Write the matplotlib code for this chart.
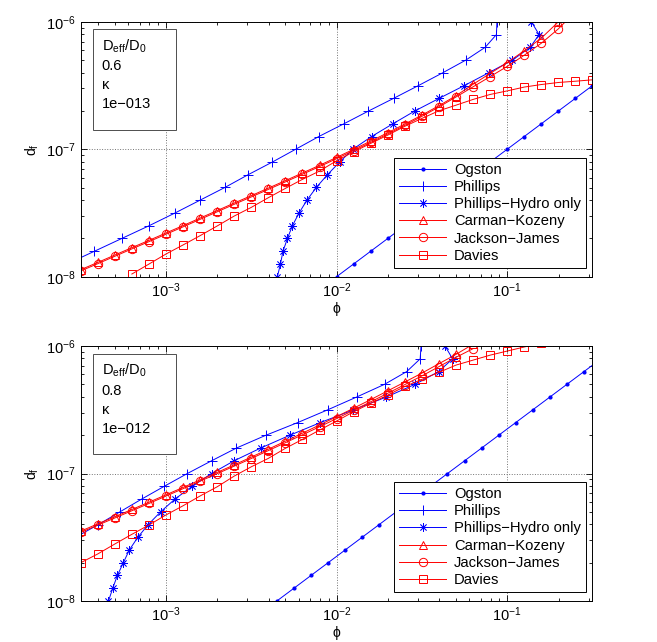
import numpy as np
import matplotlib
matplotlib.use('Agg')
import matplotlib.pyplot as plt
from matplotlib.patches import Rectangle
from matplotlib.ticker import LogLocator

plt.rcParams['font.family'] = ['Liberation Sans', 'DejaVu Sans']
plt.rcParams['mathtext.fontset'] = 'custom'
plt.rcParams['mathtext.rm'] = 'Liberation Sans'
plt.rcParams['mathtext.it'] = 'Liberation Sans:italic'
plt.rcParams['mathtext.default'] = 'regular'
plt.rcParams['font.size'] = 10

# all values are log10(phi) and log10(d_f)

# ---- top panel: Deff/D0 = 0.6, kappa = 1e-13 ----
top_ogston_phi = [-2.0, -1.9, -1.8, -1.7, -1.6, -1.5, -1.4, -1.3, -1.2, -1.1, -1.0, -0.9, -0.8, -0.7, -0.6, -0.5, -0.4]
top_ogston_d = [-8.0, -7.9, -7.8, -7.7, -7.6, -7.5, -7.4, -7.3, -7.2, -7.1, -7.0, -6.9, -6.8, -6.7, -6.6, -6.5, -6.4]

top_phillips_phi = [-3.58, -3.419, -3.259, -3.099, -2.947, -2.801, -2.655, -2.519, -2.376, -2.240,
                    -2.104, -1.957, -1.813, -1.665, -1.520, -1.378, -1.242, -1.129, -1.063, -1.060]
top_phillips_d = [-7.9, -7.8, -7.7, -7.6, -7.5, -7.4, -7.3, -7.2, -7.1, -7.0,
                  -6.9, -6.8, -6.7, -6.6, -6.5, -6.4, -6.3, -6.2, -6.1, -6.0]

top_hydro_phi = [-2.347, -2.329, -2.314, -2.288, -2.259, -2.220, -2.174, -2.119, -2.054, -1.982, -1.905,
                 -1.795, -1.670, -1.542, -1.398, -1.251, -1.109, -0.969, -0.865, -0.813, -0.858]
top_hydro_d = [-8.0, -7.9, -7.8, -7.7, -7.6, -7.5, -7.4, -7.3, -7.2, -7.1, -7.0,
               -6.9, -6.8, -6.7, -6.6, -6.5, -6.4, -6.3, -6.2, -6.1, -6.0]

top_red_phi = [-3.5, -3.4, -3.3, -3.2, -3.1, -3.0, -2.9, -2.8, -2.7, -2.6, -2.5, -2.4, -2.3, -2.2, -2.1,
               -2.0, -1.9, -1.8, -1.7, -1.6, -1.5, -1.4, -1.3, -1.2, -1.1, -1.0, -0.9, -0.8, -0.7, -0.6]
top_ck_d = [-7.945, -7.888, -7.830, -7.772, -7.715, -7.657, -7.599, -7.540, -7.481, -7.422, -7.364, -7.305,
            -7.246, -7.186, -7.126, -7.064, -7.000, -6.936, -6.870, -6.802, -6.732, -6.658, -6.580, -6.490,
            -6.405, -6.320, -6.227, -6.128, -6.000, -5.850]
top_jj_d = [-7.955, -7.898, -7.840, -7.782, -7.725, -7.667, -7.609, -7.550, -7.491, -7.432, -7.374, -7.315,
            -7.256, -7.196, -7.136, -7.074, -7.010, -6.946, -6.880, -6.812, -6.742, -6.668, -6.590, -6.510,
            -6.430, -6.350, -6.262, -6.168, -6.055, -5.920]

top_davies_phi = [-3.2, -3.1, -3.0, -2.9, -2.8, -2.7, -2.6, -2.5, -2.4, -2.3, -2.2, -2.1, -2.0, -1.9,
                  -1.8, -1.7, -1.6, -1.5, -1.4, -1.3, -1.2, -1.1, -1.0, -0.9, -0.8, -0.7, -0.6, -0.5]
top_davies_d = [-7.979, -7.901, -7.822, -7.751, -7.678, -7.602, -7.524, -7.456, -7.380, -7.307, -7.236,
                -7.171, -7.090, -7.020, -6.954, -6.889, -6.820, -6.758, -6.698, -6.654, -6.609, -6.570,
                -6.542, -6.512, -6.492, -6.476, -6.466, -6.455]

# ---- bottom panel: Deff/D0 = 0.8, kappa = 1e-12 ----
bot_ogston_phi = [-2.35, -2.25, -2.15, -2.05, -1.95, -1.85, -1.75, -1.65, -1.55, -1.45, -1.35, -1.25,
                  -1.15, -1.05, -0.95, -0.85, -0.75, -0.65, -0.55, -0.45]
bot_ogston_d = [-8.0, -7.9, -7.8, -7.7, -7.6, -7.5, -7.4, -7.3, -7.2, -7.1, -7.0, -6.9,
                -6.8, -6.7, -6.6, -6.5, -6.4, -6.3, -6.2, -6.1]

bot_phillips_phi = [-3.53, -3.396, -3.269, -3.142, -3.010, -2.875, -2.733, -2.587, -2.415, -2.228,
                    -2.052, -1.883, -1.719, -1.589, -1.510, -1.505]
bot_phillips_d = [-7.5, -7.4, -7.3, -7.2, -7.1, -7.0, -6.9, -6.8, -6.7, -6.6,
                  -6.5, -6.4, -6.3, -6.2, -6.1, -6.0]

bot_hydro_phi = [-3.337, -3.312, -3.285, -3.250, -3.215, -3.165, -3.104, -3.031, -2.947, -2.846, -2.733,
                 -2.601, -2.445, -2.275, -2.095, -1.901, -1.709, -1.540, -1.402, -1.320, -1.364]
bot_hydro_d = [-8.0, -7.9, -7.8, -7.7, -7.6, -7.5, -7.4, -7.3, -7.2, -7.1, -7.0,
               -6.9, -6.8, -6.7, -6.6, -6.5, -6.4, -6.3, -6.2, -6.1, -6.0]

bot_red_phi = [-3.5, -3.4, -3.3, -3.2, -3.1, -3.0, -2.9, -2.8, -2.7, -2.6, -2.5, -2.4, -2.3, -2.2,
               -2.1, -2.0, -1.9, -1.8, -1.7, -1.6, -1.5, -1.4, -1.3, -1.2]
bot_ck_d = [-7.452, -7.395, -7.339, -7.282, -7.225, -7.167, -7.109, -7.050, -6.991, -6.932, -6.871, -6.809,
            -6.746, -6.683, -6.619, -6.554, -6.487, -6.420, -6.351, -6.282, -6.212, -6.138, -6.065, -5.985]
bot_jj_d = [-7.462, -7.405, -7.349, -7.292, -7.235, -7.177, -7.119, -7.060, -7.001, -6.942, -6.882, -6.820,
            -6.758, -6.696, -6.633, -6.569, -6.503, -6.437, -6.370, -6.302, -6.234, -6.161, -6.088, -6.020]

bot_davies_phi = [-3.5, -3.4, -3.3, -3.2, -3.1, -3.0, -2.9, -2.8, -2.7, -2.6, -2.5, -2.4, -2.3, -2.2,
                  -2.1, -2.0, -1.9, -1.8, -1.7, -1.6, -1.5, -1.4, -1.3, -1.2, -1.1, -1.0, -0.9, -0.8]
bot_davies_d = [-7.700, -7.631, -7.553, -7.477, -7.404, -7.325, -7.253, -7.176, -7.104, -7.020, -6.947,
                -6.881, -6.802, -6.732, -6.659, -6.588, -6.515, -6.449, -6.384, -6.317, -6.261, -6.206,
                -6.149, -6.110, -6.071, -6.039, -6.007, -5.975]

labels = ['Ogston', 'Phillips', 'Phillips\u2212Hydro only', 'Carman\u2212Kozeny', 'Jackson\u2212James', 'Davies']
top_note = 'D$_{eff}$/D$_0$\n0.6\n\u03ba\n1e\u2212013'
bot_note = 'D$_{eff}$/D$_0$\n0.8\n\u03ba\n1e\u2212012'

asterisk = (8, 2, 0)   # matlab style '*'


def draw_panel(ax, ogston, phillips, hydro, red_phi, ck_d, jj_d, davies, note):
    lw = 0.7
    ax.plot(10**np.array(ogston[0]), 10**np.array(ogston[1]), '-', color='b', marker='.', ms=4, lw=lw, label=labels[0])
    ax.plot(10**np.array(phillips[0]), 10**np.array(phillips[1]), '-', color='b', marker='+', ms=7, mew=0.7, lw=lw, label=labels[1])
    ax.plot(10**np.array(hydro[0]), 10**np.array(hydro[1]), '-', color='b', marker=asterisk, ms=6, mew=0.55, lw=lw, label=labels[2])
    rphi = 10**np.array(red_phi)
    ax.plot(rphi, 10**np.array(ck_d), '-', color='r', marker='^', ms=6, mfc='none', mew=0.7, lw=lw, label=labels[3])
    ax.plot(rphi, 10**np.array(jj_d), '-', color='r', marker='o', ms=6, mfc='none', mew=0.7, lw=lw, label=labels[4])
    ax.plot(10**np.array(davies[0]), 10**np.array(davies[1]), '-', color='r', marker='s', ms=6, mfc='none', mew=0.7, lw=lw, label=labels[5])

    ax.set_xscale('log')
    ax.set_yscale('log')
    ax.set_xlim(10**-3.5, 10**-0.5)
    ax.set_ylim(1e-8, 1e-6)
    ax.xaxis.set_major_locator(LogLocator(base=10, numticks=10))
    ax.yaxis.set_major_locator(LogLocator(base=10, numticks=10))
    ax.tick_params(which='both', direction='in', top=True, right=True, width=0.6)
    ax.tick_params(which='major', length=4, labelsize=10.5)
    ax.tick_params(which='minor', length=2.5)
    ax.grid(True, which='major', linestyle=':', color='0.45', lw=0.7)
    for sp in ax.spines.values():
        sp.set_linewidth(0.7)
    ax.set_xlabel('\u03d5', labelpad=1)
    ax.set_ylabel('d$_f$', labelpad=4)

    leg = ax.legend(loc='lower right', bbox_to_anchor=(0.987, 0.034), borderaxespad=0,
                    fancybox=False, edgecolor='k', framealpha=1, handlelength=3.2,
                    handletextpad=0.5, labelspacing=0.22, borderpad=0.35, fontsize=10.6)
    leg.get_frame().set_linewidth(0.7)

    ax.add_patch(Rectangle((0.0246, 0.575), 0.162, 0.395, transform=ax.transAxes,
                           fc='white', ec='0.3', lw=0.7, zorder=5))
    ax.text(0.041, 0.94, note, transform=ax.transAxes, va='top', ha='left',
            linespacing=1.45, fontsize=10.5, zorder=6)


fig = plt.figure(figsize=(6.57, 6.42), dpi=100)
ax1 = fig.add_axes([0.1228, 0.569, 0.779, 0.397])
ax2 = fig.add_axes([0.1228, 0.0639, 0.779, 0.397])

draw_panel(ax1, (top_ogston_phi, top_ogston_d), (top_phillips_phi, top_phillips_d),
           (top_hydro_phi, top_hydro_d), top_red_phi, top_ck_d, top_jj_d,
           (top_davies_phi, top_davies_d), top_note)
draw_panel(ax2, (bot_ogston_phi, bot_ogston_d), (bot_phillips_phi, bot_phillips_d),
           (bot_hydro_phi, bot_hydro_d), bot_red_phi, bot_ck_d, bot_jj_d,
           (bot_davies_phi, bot_davies_d), bot_note)

fig.savefig('out.png', dpi=100)
